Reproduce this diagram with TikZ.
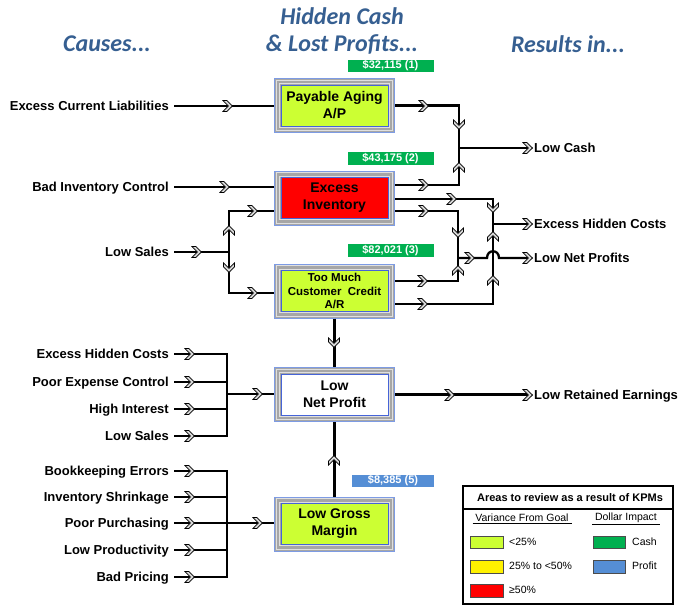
\documentclass[tikz,border=0pt]{standalone}
\usepackage{fontspec}
\setmainfont{Liberation Sans}
\newfontfamily\titlefont{Carlito}
\usetikzlibrary{calc}
\definecolor{lime}{RGB}{204,255,51}
\definecolor{kgreen}{RGB}{0,176,80}
\definecolor{kblue}{RGB}{85,142,213}
\definecolor{titleblue}{RGB}{54,95,145}
\definecolor{frameblue}{RGB}{125,155,228}
\definecolor{innerblue}{RGB}{70,100,215}
\tikzset{
  conn/.style={line width=2.3pt, line join=miter},
  cause/.style={anchor=east, font=\bfseries\fontsize{13}{15}\selectfont, inner sep=0pt, text height=9.4pt, text depth=0pt},
  res/.style={anchor=west, font=\bfseries\fontsize{13}{15}\selectfont, inner sep=0pt, text height=9.4pt, text depth=0pt},
  box/.style={minimum width=120pt, minimum height=54pt, inner sep=0pt, align=center,
    draw=frameblue, line width=1pt, fill=black!35,
    font=\bfseries\fontsize{14}{17}\selectfont,
    path picture={
      \draw[gray!25, line width=1pt] ([xshift=1.8pt,yshift=-1.8pt]path picture bounding box.north west) rectangle ([xshift=-1.8pt,yshift=1.8pt]path picture bounding box.south east);
      \draw[gray!25, line width=1pt] ([xshift=5.2pt,yshift=-5.2pt]path picture bounding box.north west) rectangle ([xshift=-5.2pt,yshift=5.2pt]path picture bounding box.south east);
      \draw[fill=#1, draw=innerblue, line width=0.9pt] ([xshift=6.5pt,yshift=-6.5pt]path picture bounding box.north west) rectangle ([xshift=-6.5pt,yshift=6.5pt]path picture bounding box.south east);
    }},
  tag/.style={fill=kgreen, text=white, font=\bfseries\fontsize{11}{12}\selectfont, minimum width=86pt, minimum height=12.5pt, inner sep=0pt},
  ttl/.style={text=titleblue, font=\titlefont\bfseries\itshape\fontsize{24}{26}\selectfont, inner sep=0pt, align=center},
  leg/.style={font=\fontsize{10.5}{12}\selectfont, inner sep=0pt, anchor=west},
  sw/.style={draw=black!70, line width=0.6pt},
  chev/.pic={\draw[line width=0.75pt, fill=gray!30, line join=miter] (-5,-5.5) -- (-1.2,-5.5) -- (4.5,0) -- (-1.2,5.5) -- (-5,5.5) -- (0.3,0) -- cycle;}
}
\begin{document}
\begin{tikzpicture}[x=1pt,y=-1pt]
\useasboundingbox (0,0) rectangle (680,614);
% titles
\node[ttl] (t1) at (107,44) {Causes...};
\node[ttl] (t2) at (342,16) {Hidden Cash};
\node[ttl] (t3) at (342,44) {\& Lost Profits...};
\node[ttl] (t4) at (568,44) {Results in...};
% boxes
\node[box=lime] (pa) at (334.5,105.5) {Payable Aging\\A/P};
\node[box=red] (ei) at (334.5,198) {Excess\\Inventory};
\node[box=lime, font=\bfseries\fontsize{11.5}{13.5}\selectfont] (tc) at (334.5,291) {Too Much\\Customer\ \ Credit\\A/R};
\node[box=white] (ln) at (334.5,394.5) {Low\\Net Profit};
\node[box=lime] (lg) at (334.5,524) {Low Gross\\Margin};
% tags
\node[tag] (g1) at (390.5,66) {\$32,115 (1)};
\node[tag] (g2) at (390.5,158.5) {\$43,175 (2)};
\node[tag] (g3) at (390.5,250.5) {\$82,021 (3)};
\node[tag, fill=kblue, minimum width=82pt] (b5) at (393,481) {\$8,385 (5)};
% causes
\node[cause] (c1) at (169,106) {Excess Current Liabilities};
\node[cause] (c2) at (169,187) {Bad Inventory Control};
\node[cause] (c3) at (169,252) {Low Sales};
\node[cause] (d1) at (169,354) {Excess Hidden Costs};
\node[cause] (d2) at (169,382) {Poor Expense Control};
\node[cause] (d3) at (169,409) {High Interest};
\node[cause] (d4) at (169,436) {Low Sales};
\node[cause] (e1) at (169,471) {Bookkeeping Errors};
\node[cause] (e2) at (169,497) {Inventory Shrinkage};
\node[cause] (e3) at (169,523) {Poor Purchasing};
\node[cause] (e4) at (169,550) {Low Productivity};
\node[cause] (e5) at (169,577) {Bad Pricing};
% results
\node[res] (r1) at (534,148) {Low Cash};
\node[res] (r2) at (534,224) {Excess Hidden Costs};
\node[res] (r3) at (534,258) {Low Net Profits};
\node[res] (r4) at (534,395) {Low Retained Earnings};
% junctions
\coordinate (jL) at (229,252);
\coordinate (jC) at (459,148);
\coordinate (jH) at (493,224);
\coordinate (jN) at (458,258);
\coordinate (hopA) at (487,258);
\coordinate (hopB) at (499,258);
\coordinate (u1) at (227,354);
\coordinate (u4) at (227,436);
\coordinate (bu) at (227,394);
\coordinate (v1) at (227,471);
\coordinate (v5) at (227,577);
\coordinate (bv) at (227,523);
% left connectors
\draw[conn] ([xshift=5pt]c1.east) -- (pa.west |- c1.east);
\draw[conn] ([xshift=5pt]c2.east) -- (ei.west |- c2.east);
\draw[conn] ([xshift=5pt]c3.east) -- (jL);
\draw[conn] (jL) |- ([yshift=-13pt]ei.west);
\draw[conn] (jL) |- ([yshift=-2pt]tc.west);
% right connectors
\draw[conn] (pa.east) -| (jC);
\draw[conn] ([yshift=13pt]ei.east) -| (jC);
\draw[conn] ([yshift=-1pt]ei.east) -| (jH);
\draw[conn] ([yshift=-13pt]ei.east) -| (jN);
\draw[conn] ([yshift=10pt]tc.east) -| (jN);
\draw[conn] ([yshift=-13pt]tc.east) -| (jH);
\draw[conn] (jC) -- ([xshift=-3pt]r1.west);
\draw[conn] (jH) -- ([xshift=-3pt]r2.west);
\draw[conn] (jN) -- (hopA) .. controls (487,249) and (499,249) .. (hopB) -- ([xshift=-3pt]r3.west);
\draw[conn] (tc.south) -- (ln.north);
\draw[conn] (lg.north) -- (ln.south);
\draw[conn] (ln.east) -- ([xshift=-3pt]ln.east -| r4.west);
% left groups
\draw[conn] ([xshift=5pt]d1.east) -- (u1) -- (u4) -- ([xshift=5pt]d4.east);
\draw[conn] ([xshift=5pt]d2.east) -- (d2.east -| u1);
\draw[conn] ([xshift=5pt]d3.east) -- (d3.east -| u1);
\draw[conn] (bu) -- (ln.west |- bu);
\draw[conn] ([xshift=5pt]e1.east) -- (v1) -- (v5) -- ([xshift=5pt]e5.east);
\draw[conn] ([xshift=5pt]e2.east) -- (e2.east -| v1);
\draw[conn] ([xshift=5pt]e3.east) -- (e3.east -| v1);
\draw[conn] ([xshift=5pt]e4.east) -- (e4.east -| v1);
\draw[conn] (bv) -- (lg.west |- bv);
% chevrons
\foreach \p in {(228,106),(225,187),(197,252),(253,211),(253,293),(424,106),(424,185),(452,199),(424,211),(423,281),(423,304),(470,258),(528,148),(528,224),(528,258),(450,395),(528,395),(190,354),(190,382),(190,409),(190,436),(258,394),(190,471),(190,497),(190,523),(190,550),(190,577),(258,523)}
  \pic at \p {chev};
\foreach \p in {(459,125),(493,208),(458,233),(334,343),(229,268)}
  \pic[rotate=-90] at \p {chev};
\foreach \p in {(459,167),(458,270),(493,236),(493,280),(334,460),(229,230)}
  \pic[rotate=90] at \p {chev};
% legend
\draw[line width=1.5pt] (463,486) rectangle (673,604);
\draw[line width=1.2pt] (463,509) -- (673,509);
\node[font=\bfseries\fontsize{11}{13}\selectfont, inner sep=0pt] (lh) at (570,498) {Areas to review as a result of KPMs};
\node[font=\fontsize{10.5}{12}\selectfont, inner sep=0pt] (lv) at (522,519) {\underline{\ Variance From Goal\ }};
\node[font=\fontsize{10.5}{12}\selectfont, inner sep=0pt] (ld) at (626,519) {\underline{\ Dollar Impact\ }};
\draw[sw, fill=lime] (470,536) rectangle (503,548);
\draw[sw, fill=yellow] (470,560) rectangle (503,573);
\draw[sw, fill=red] (470,584) rectangle (503,597);
\draw[sw, fill=kgreen] (593,536) rectangle (625,548);
\draw[sw, fill=kblue] (593,560) rectangle (625,573);
\node[leg] (l1) at (509,542) {<25\%};
\node[leg] (l2) at (509,566) {25\% to <50\%};
\node[leg] (l3) at (509,590) {≥50\%};
\node[leg] (l4) at (632,542) {Cash};
\node[leg] (l5) at (632,566) {Profit};
\end{tikzpicture}
\end{document}
